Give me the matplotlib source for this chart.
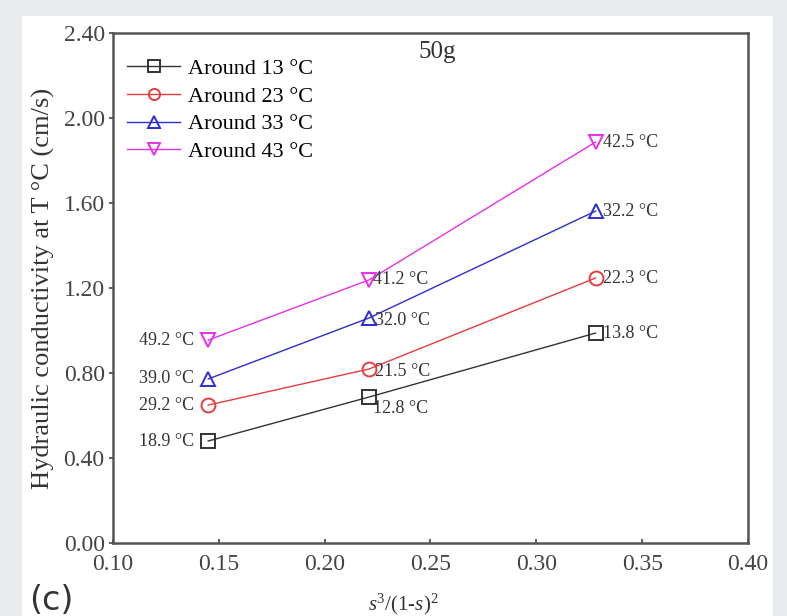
import numpy as np
import matplotlib
matplotlib.use('Agg')
import matplotlib.pyplot as plt
from matplotlib.patches import Rectangle

plt.rcParams['font.family'] = ['Liberation Serif', 'DejaVu Serif']
plt.rcParams['mathtext.fontset'] = 'custom'
plt.rcParams['mathtext.rm'] = 'Liberation Serif'
plt.rcParams['mathtext.it'] = 'Liberation Serif:italic'

x = [0.145, 0.221, 0.328]
k13 = [0.48, 0.687, 0.988]
k23 = [0.649, 0.819, 1.247]
k33 = [0.772, 1.059, 1.562]
k43 = [0.955, 1.238, 1.887]
t13 = ['18.9 °C', '12.8 °C', '13.8 °C']
t23 = ['29.2 °C', '21.5 °C', '22.3 °C']
t33 = ['39.0 °C', '32.0 °C', '32.2 °C']
t43 = ['49.2 °C', '41.2 °C', '42.5 °C']
names = ['Around 13 °C', 'Around 23 °C', 'Around 33 °C', 'Around 43 °C']

fig = plt.figure(figsize=(7.87, 6.16), dpi=100)
fig.patch.set_facecolor('#e9ecef')
fig.patches.append(Rectangle((22/787, 0), 751/787, 600/616, transform=fig.transFigure,
                             facecolor='white', edgecolor='none', zorder=-5))
ax = fig.add_axes([113/787, 73/616, 635/787, 510/616])
ax.set_zorder(2)

series = [(k13, t13, '#333333', 's'), (k23, t23, '#e83c3c', 'o'),
          (k33, t33, '#2d2dd0', '^'), (k43, t43, '#e830e8', 'v')]
for (k, t, c, m), name in zip(series, names):
    ax.plot(x, k, color=c, marker=m, mfc='none', mec=c, ms=10, lw=1, mew=1.4, label=name)

fs_ann = 13
# left labels
for k, t, *_ in series:
    ax.annotate(t[0], (x[0], k[0]), xytext=(-10, 0), textcoords='offset points',
                ha='right', va='center', fontsize=fs_ann, color='#333333')
# middle labels
offs = [(3, -8), (4, -2), (4, -2), (3, 0)]
for (k, t, *_), o in zip(series, offs):
    ax.annotate(t[1], (x[1], k[1]), xytext=o, textcoords='offset points',
                ha='left', va='center', fontsize=fs_ann, color='#333333')
# right labels
for k, t, *_ in series:
    ax.annotate(t[2], (x[2], k[2]), xytext=(5, 0), textcoords='offset points',
                ha='left', va='center', fontsize=fs_ann, color='#333333')

ax.set_xlim(0.10, 0.40)
ax.set_ylim(0.0, 2.40)
ax.set_xticks(np.arange(0.10, 0.401, 0.05))
ax.set_yticks(np.arange(0.0, 2.401, 0.4))
ax.set_xticklabels(['%.2f' % v for v in np.arange(0.10, 0.401, 0.05)])
ax.set_yticklabels(['%.2f' % v for v in np.arange(0.0, 2.401, 0.4)])
ax.tick_params(axis='both', labelsize=17, colors='#444444', length=3, width=1.2)
ax.tick_params(axis='x', direction='in', pad=8)
ax.tick_params(axis='y', direction='out', pad=3)
for s in ax.spines.values():
    s.set_linewidth(1.8)
    s.set_color('#555555')
ax.set_ylabel('Hydraulic conductivity at T °C (cm/s)', fontsize=19, color='#333333',
              labelpad=6)
ax.set_xlabel('$s^3/(1\\text{-}s)^2$', fontsize=15, color='#333333')
ax.xaxis.set_label_coords(0.457, -0.096)
ax.text(0.51, 0.985, '50g', transform=ax.transAxes, fontsize=18, color='#333333',
        ha='center', va='top')
ax.legend(loc='upper left', frameon=False, fontsize=16, handlelength=2.4,
          bbox_to_anchor=(0.022, 0.95), borderaxespad=0, borderpad=0,
          labelspacing=0.32, handletextpad=0.35, markerscale=0.8)
fig.text(29/787, 6/616, '(c)', fontsize=24, family='DejaVu Sans', color='#333333')

fig.savefig('out.png', dpi=100, facecolor=fig.get_facecolor())
